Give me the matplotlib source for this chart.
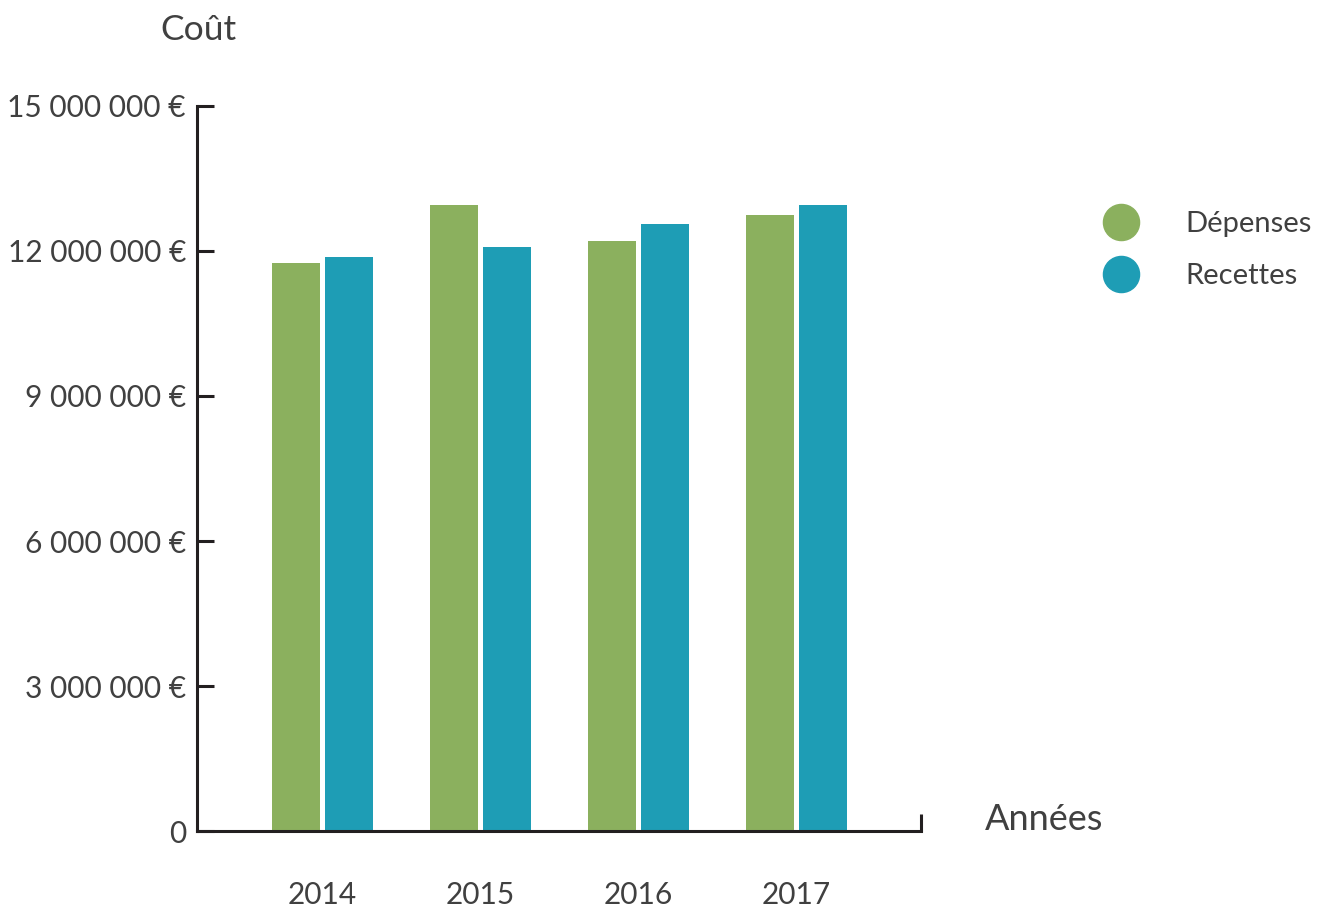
import numpy as np
import matplotlib.pyplot as plt

# data
years = ["2014", "2015", "2016", "2017"]
depenses = [11750000, 12950000, 12200000, 12750000]
recettes = [11870000, 12080000, 12560000, 12950000]
yticks = [0, 3000000, 6000000, 9000000, 12000000, 15000000]
ytick_labels = ["0", "3 000 000 €", "6 000 000 €", "9 000 000 €", "12 000 000 €", "15 000 000 €"]

green = "#8BB05E"
blue = "#1E9DB5"
txt = "#404040"
axcol = "#231F20"

plt.rcParams['font.family'] = ['Lato', 'DejaVu Sans']

fig = plt.figure(figsize=(13.27, 9.09), dpi=100)
ax = fig.add_axes([0.1485, 0.0858, 0.5456, 0.7976])

x = np.arange(len(years))
w = 0.304
off = 0.168
ax.bar(x - off, depenses, width=w, color=green, label="Dépenses")
ax.bar(x + off, recettes, width=w, color=blue, label="Recettes")

ax.set_xlim(-0.794, 3.788)
ax.set_ylim(0, 15000000)

for s in ["top", "right"]:
    ax.spines[s].set_visible(False)
for s in ["left", "bottom"]:
    ax.spines[s].set_linewidth(2.2)
    ax.spines[s].set_color(axcol)

ax.set_yticks(yticks)
ax.set_yticklabels(ytick_labels)
ax.tick_params(axis="y", direction="in", length=12, width=2.2, color=axcol,
               pad=8, labelsize=21.5, labelcolor=txt)

ax.set_xticks(x)
ax.set_xticklabels(years)
ax.tick_params(axis="x", which="major", length=0, pad=36, labelsize=21.5, labelcolor=txt)
ax.set_xticks([3.788], minor=True)
ax.tick_params(axis="x", which="minor", direction="in", length=12, width=2.2, color=axcol)

fig.text(0.1205, 0.967, "Coût", fontsize=25.5, color=txt, va="center")
fig.text(0.742, 0.098, "Années", fontsize=26, color=txt, va="center")

leg = ax.legend(handles=[plt.Line2D([], [], marker="o", ls="", ms=26, color=green, label="Dépenses"),
                         plt.Line2D([], [], marker="o", ls="", ms=26, color=blue, label="Recettes")],
                loc="upper left", bbox_to_anchor=(0.803, 0.797), bbox_transform=fig.transFigure,
                frameon=False, fontsize=21, labelcolor=txt, handletextpad=1.2, labelspacing=0.9)

fig.savefig("out.png", dpi=100)
